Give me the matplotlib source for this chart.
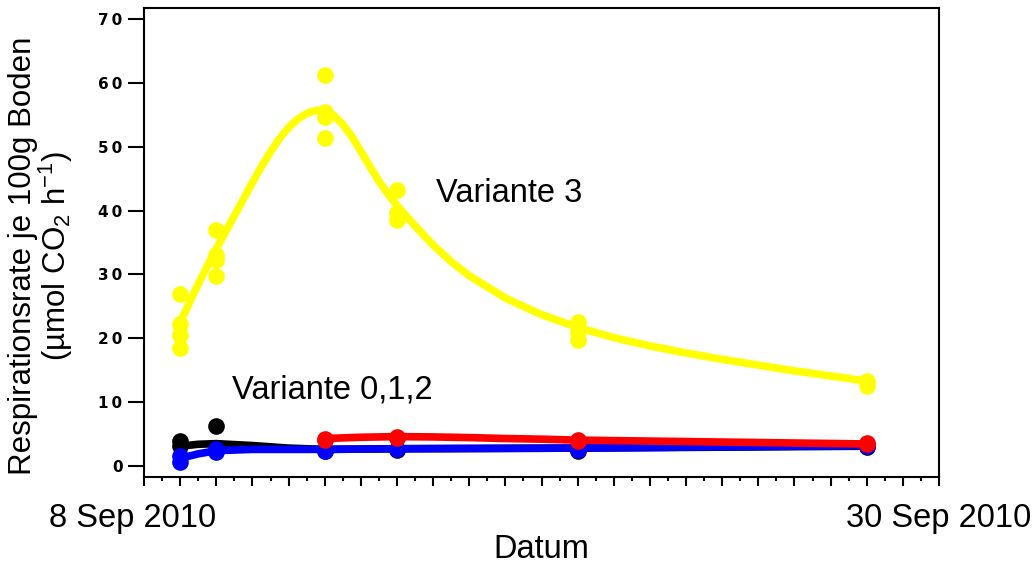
import matplotlib
matplotlib.use("Agg")
import matplotlib.pyplot as plt
from matplotlib.ticker import MultipleLocator, FuncFormatter
from matplotlib.transforms import ScaledTranslation

plt.rcParams['font.family'] = ['Liberation Sans', 'DejaVu Sans']
plt.rcParams['mathtext.fontset'] = 'custom'
plt.rcParams['mathtext.rm'] = 'Liberation Sans'
plt.rcParams['mathtext.it'] = 'Liberation Sans'
plt.rcParams['mathtext.default'] = 'regular'

# x in days after 8 Sep 2010
x_labels = ['8 Sep 2010', '30 Sep 2010']
x_label_pos = [0, 22]

# Variante 3 (yellow) measured points
y3_x = [1, 1, 1, 1, 2, 2, 2, 2, 5, 5, 5, 5, 7, 7, 7, 12, 12, 12, 20, 20]
y3_y = [27.0, 22.3, 20.5, 18.5, 37.0, 33.0, 32.3, 29.8, 61.2, 55.5, 54.6, 51.3,
        43.2, 39.6, 38.5, 22.6, 21.0, 19.8, 13.3, 12.5]
# Variante 3 fitted curve
c3_x = [1.0, 1.25, 1.5, 1.75, 2.0, 2.25, 2.5, 2.75, 3.0, 3.25, 3.5, 3.75, 4.0,
        4.25, 4.5, 4.75, 5.0, 5.25, 5.5, 5.75, 6.0, 6.25, 6.5, 6.75, 7.0, 7.5,
        8.0, 8.5, 9.0, 10.0, 11.0, 12.0, 13.0, 14.0, 15.0, 16.0, 17.0, 18.0,
        19.0, 20.0]
c3_y = [22.5, 25.5, 28.5, 31.3, 34.0, 36.6, 39.2, 41.8, 44.4, 46.9, 49.2, 51.3,
        53.0, 54.3, 55.2, 55.7, 55.6, 54.9, 53.5, 51.6, 49.3, 46.9, 44.6, 42.6,
        40.8, 37.6, 34.6, 32.0, 29.8, 26.3, 23.7, 21.7, 20.1, 18.8, 17.7, 16.7,
        15.8, 14.9, 14.1, 13.3]

# Variante 0 (black)
k_x = [1, 1, 2, 5, 7, 12, 20]
k_y = [3.9, 3.1, 6.2, 2.3, 2.5, 2.4, 3.0]
ck_x = [1.0, 1.5, 2.0, 3.0, 4.0, 5.0, 7.0, 12.0, 20.0]
ck_y = [3.1, 3.4, 3.5, 3.2, 2.8, 2.6, 2.7, 2.8, 3.1]

# Variante 1 (blue)
b_x = [1, 1, 2, 2, 5, 7, 12, 20]
b_y = [0.7, 1.6, 2.2, 2.7, 2.4, 2.6, 2.5, 3.2]
cb_x = [1.0, 1.5, 2.0, 3.0, 5.0, 7.0, 12.0, 20.0]
cb_y = [1.2, 1.9, 2.4, 2.6, 2.6, 2.7, 2.8, 3.2]

# Variante 2 (red)
r_x = [5, 5, 7, 7, 12, 12, 20, 20]
r_y = [4.3, 4.1, 4.6, 4.4, 4.1, 3.9, 3.6, 3.4]
cr_x = [5.0, 6.0, 7.0, 8.0, 9.0, 10.0, 11.0, 12.0, 14.0, 16.0, 18.0, 20.0]
cr_y = [4.3, 4.5, 4.6, 4.55, 4.45, 4.3, 4.2, 4.05, 3.9, 3.75, 3.6, 3.45]

fig = plt.figure(figsize=(10.34, 5.65), dpi=100)
ax = fig.add_axes([0.1393, 0.1558, 0.7688, 0.83])

lw = 5.5
ms = 12
ax.plot(c3_x, c3_y, color='#FFFF00', lw=lw, solid_capstyle='round', zorder=2)
ax.plot(y3_x, y3_y, 'o', color='#FFFF00', ms=ms, mec='none', zorder=3)

ax.plot(ck_x, ck_y, color='black', lw=lw, solid_capstyle='round', zorder=2)
ax.plot(k_x, k_y, 'o', color='black', ms=ms, mec='none', zorder=3)
ax.plot(cb_x, cb_y, color='#0000FF', lw=lw, solid_capstyle='round', zorder=4)
ax.plot(b_x, b_y, 'o', color='#0000FF', ms=ms, mec='none', zorder=4)
ax.plot(cr_x, cr_y, color='#FF0000', lw=lw, solid_capstyle='round', zorder=5)
ax.plot(r_x, r_y, 'o', color='#FF0000', ms=ms, mec='none', zorder=5)

ax.set_xlim(0, 22)
ax.set_ylim(-1.72, 71.72)

ax.xaxis.set_major_locator(MultipleLocator(1))
ax.xaxis.set_minor_locator(MultipleLocator(0.5))
lab = dict(zip(x_label_pos, x_labels))
ax.xaxis.set_major_formatter(FuncFormatter(lambda v, p: lab.get(int(round(v)), '')))
ax.tick_params(axis='x', which='major', direction='out', length=6.5, width=1.5,
               labelsize=23.5, pad=12)
ax.tick_params(axis='x', which='minor', direction='out', length=3, width=1.5)

ax.yaxis.set_major_locator(MultipleLocator(10))
ax.yaxis.set_major_formatter(FuncFormatter(lambda v, p: '\u2009'.join(str(int(round(v))))))
ax.tick_params(axis='y', which='major', direction='out', length=11.5, width=1.5,
               labelsize=11, pad=4)
for t in ax.get_yticklabels():
    t.set_family('DejaVu Sans')
    t.set_fontweight('bold')

for s in ax.spines.values():
    s.set_linewidth(1.5)

ax.set_xlabel('Datum', fontsize=23.5, labelpad=0)
ax.set_ylabel('Respirationsrate je 100g Boden\n(µmol CO$_2$ h$^{-1}$)', fontsize=22.5,
              linespacing=0.95)
ax.yaxis.set_label_coords(-0.087, 0.471)

ax.text(8.08, 42.75, 'Variante 3', fontsize=23.5, va='center', ha='left')
ax.text(2.44, 11.9, 'Variante 0,1,2', fontsize=23.5, va='center', ha='left')

fig.canvas.draw()
for tk in ax.xaxis.get_major_ticks():
    if tk.label1.get_text() == x_labels[0]:
        tk.label1.set_transform(tk.label1.get_transform()
                                + ScaledTranslation(-0.11, 0, fig.dpi_scale_trans))

fig.savefig('out.png', dpi=100)
